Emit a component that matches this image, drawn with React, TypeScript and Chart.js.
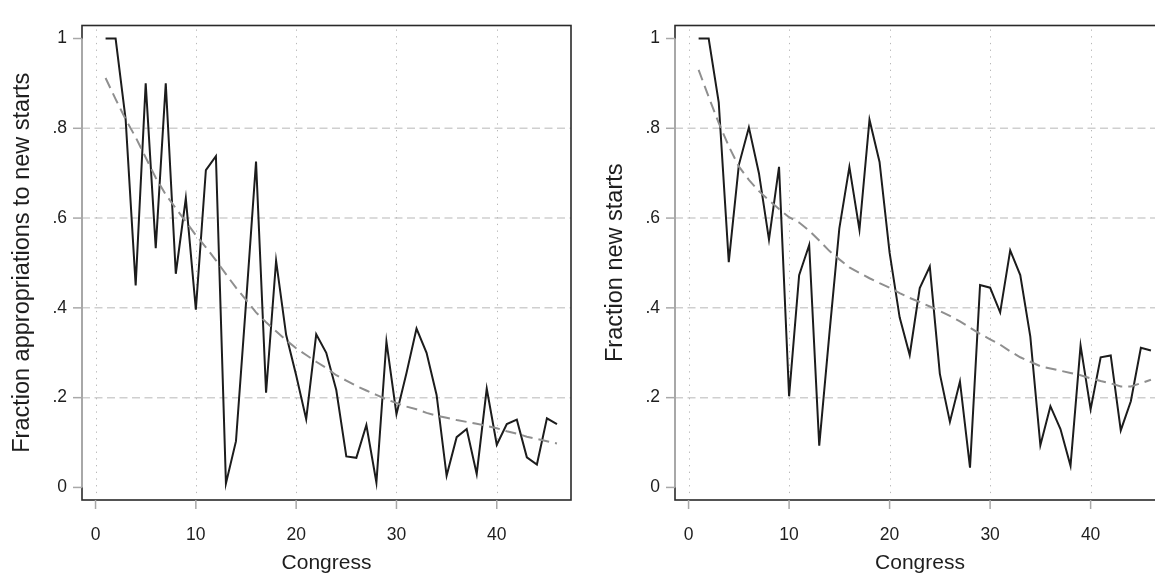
import React, { useEffect, useRef } from "react";
import { Chart, registerables } from "chart.js";

Chart.register(...registerables);

// ---------- data ----------
const congress = [
  1, 2, 3, 4, 5, 6, 7, 8, 9, 10, 11, 12, 13, 14, 15, 16, 17, 18, 19, 20, 21, 22, 23,
  24, 25, 26, 27, 28, 29, 30, 31, 32, 33, 34, 35, 36, 37, 38, 39, 40, 41, 42, 43, 44, 45, 46,
];

const leftActual = [
  1.0, 1.0, 0.82, 0.45, 0.9, 0.533, 0.9, 0.476, 0.644, 0.396, 0.707, 0.738, 0.009, 0.103,
  0.41, 0.726, 0.211, 0.505, 0.34, 0.25, 0.152, 0.341, 0.3, 0.217, 0.069, 0.066, 0.139,
  0.011, 0.325, 0.163, 0.255, 0.354, 0.3, 0.206, 0.026, 0.112, 0.13, 0.03, 0.22, 0.095,
  0.141, 0.151, 0.067, 0.051, 0.154, 0.141,
];

const leftFit = [
  0.912, 0.865, 0.82, 0.78, 0.735, 0.69, 0.652, 0.622, 0.592, 0.562, 0.535, 0.506, 0.475,
  0.445, 0.418, 0.39, 0.368, 0.348, 0.328, 0.31, 0.295, 0.28, 0.266, 0.25, 0.238, 0.226,
  0.216, 0.206, 0.196, 0.188, 0.18, 0.174, 0.166, 0.16, 0.155, 0.15, 0.146, 0.142, 0.137,
  0.132, 0.125, 0.12, 0.113, 0.108, 0.103, 0.098,
];

const rightActual = [
  1.0, 1.0, 0.858, 0.502, 0.718, 0.802, 0.7, 0.552, 0.714, 0.203, 0.473, 0.54, 0.093, 0.34,
  0.577, 0.714, 0.574, 0.819, 0.725, 0.523, 0.379, 0.295, 0.444, 0.492, 0.253, 0.146,
  0.236, 0.044, 0.451, 0.445, 0.39, 0.528, 0.473, 0.336, 0.094, 0.181, 0.13, 0.048, 0.316,
  0.174, 0.29, 0.294, 0.127, 0.192, 0.311, 0.305,
];

const rightFit = [
  0.93, 0.87, 0.812, 0.76, 0.715, 0.685, 0.66, 0.64, 0.62, 0.602, 0.59, 0.572, 0.55, 0.527,
  0.508, 0.49, 0.478, 0.466, 0.455, 0.445, 0.433, 0.422, 0.413, 0.403, 0.393, 0.382, 0.37,
  0.356, 0.342, 0.33, 0.318, 0.303, 0.29, 0.28, 0.27, 0.265, 0.26, 0.255, 0.25, 0.243,
  0.237, 0.232, 0.225, 0.225, 0.232, 0.24,
];

const xTicks = [0, 10, 20, 30, 40];
const yTicks = [0, 0.2, 0.4, 0.6, 0.8, 1];
const yTickLabels = ["0", ".2", ".4", ".6", ".8", "1"];
const yGridValues = [0.2, 0.4, 0.6, 0.8];

const xTitle = "Congress";
const leftYTitle = "Fraction appropriations to new starts";
const rightYTitle = "Fraction new starts";

// ---------- style ----------
const FONT = "'Liberation Sans', Arial, Helvetica, sans-serif";
const TEXT = "#1e1e1e";
const X_MIN = -1.35;
const X_MAX = 47.4;
const Y_MIN = -0.028;
const Y_MAX = 1.029;

const framePlugin = {
  id: "stataFrame",
  beforeDatasetsDraw(chart: any) {
    const { ctx, chartArea: a, scales } = chart;
    const x = scales.x;
    const y = scales.y;
    ctx.save();
    ctx.strokeStyle = "#cfcfcf";
    ctx.lineWidth = 1.5;
    ctx.setLineDash([8, 4.5]);
    for (const v of yGridValues) {
      const py = y.getPixelForValue(v);
      ctx.beginPath();
      ctx.moveTo(a.left, py);
      ctx.lineTo(a.right, py);
      ctx.stroke();
    }
    ctx.strokeStyle = "#b8b8b8";
    ctx.lineWidth = 1;
    ctx.setLineDash([1.3, 5.4]);
    for (const v of xTicks) {
      const px = Math.round(x.getPixelForValue(v)) + 0.5;
      ctx.beginPath();
      ctx.moveTo(px, a.top + 4);
      ctx.lineTo(px, a.bottom - 3);
      ctx.stroke();
    }
    ctx.restore();
  },
  afterDatasetsDraw(chart: any) {
    const { ctx, chartArea: a, scales } = chart;
    const x = scales.x;
    const y = scales.y;
    ctx.save();
    ctx.setLineDash([]);
    ctx.strokeStyle = "#2a2a2a";
    ctx.lineWidth = 1.6;
    ctx.strokeRect(a.left, a.top, a.right - a.left, a.bottom - a.top);
    ctx.strokeStyle = "#a8a8a8";
    ctx.lineWidth = 2;
    ctx.beginPath();
    ctx.moveTo(a.left, y.getPixelForValue(1));
    ctx.lineTo(a.left, y.getPixelForValue(0));
    ctx.stroke();
    ctx.lineWidth = 1.5;
    for (const v of yTicks) {
      const py = y.getPixelForValue(v);
      ctx.beginPath();
      ctx.moveTo(a.left - 9, py);
      ctx.lineTo(a.left, py);
      ctx.stroke();
    }
    for (const v of xTicks) {
      const px = x.getPixelForValue(v);
      ctx.beginPath();
      ctx.moveTo(px, a.bottom);
      ctx.lineTo(px, a.bottom + 9);
      ctx.stroke();
    }
    ctx.restore();
  },
};

type PanelProps = {
  actual: number[];
  fit: number[];
  yTitle: string;
  yTitleSize: number;
  width: number;
  height: number;
};

function Panel({ actual, fit, yTitle, yTitleSize, width, height }: PanelProps) {
  const ref = useRef<HTMLCanvasElement | null>(null);
  useEffect(() => {
    if (!ref.current) return;
    const chart = new Chart(ref.current, {
      type: "line",
      data: {
        datasets: [
          {
            label: "fit",
            data: congress.map((c, i) => ({ x: c, y: fit[i] })),
            borderColor: "#8f8f8f",
            borderWidth: 2,
            borderDash: [11, 6],
            pointRadius: 0,
            tension: 0,
            fill: false,
          },
          {
            label: "actual",
            data: congress.map((c, i) => ({ x: c, y: actual[i] })),
            borderColor: "#1c1c1c",
            borderWidth: 2,
            pointRadius: 0,
            tension: 0,
            fill: false,
          },
        ],
      },
      options: {
        animation: false,
        responsive: false,
        maintainAspectRatio: false,
        events: [],
        layout: { padding: { top: 11, right: 7, left: 0, bottom: 0 } },
        plugins: {
          legend: { display: false },
          tooltip: { enabled: false },
          title: { display: false },
        },
        scales: {
          x: {
            type: "linear",
            min: X_MIN,
            max: X_MAX,
            afterBuildTicks: (axis: any) => {
              axis.ticks = xTicks.map((v) => ({ value: v }));
            },
            afterFit: (scale: any) => {
              scale.height = 76;
            },
            grid: { display: false, drawTicks: false },
            border: { display: false },
            ticks: {
              autoSkip: false,
              maxRotation: 0,
              padding: 25,
              color: TEXT,
              font: { family: FONT, size: 17.5 },
              callback: (v: any) => String(v),
            },
            title: {
              display: true,
              text: xTitle,
              color: TEXT,
              font: { family: FONT, size: 21, lineHeight: 1.2 },
              padding: { top: 0, bottom: 0 },
            },
          },
          y: {
            type: "linear",
            min: Y_MIN,
            max: Y_MAX,
            afterBuildTicks: (axis: any) => {
              axis.ticks = yTicks.map((v) => ({ value: v }));
            },
            afterFit: (scale: any) => {
              scale.width = 82;
            },
            grid: { display: false, drawTicks: false },
            border: { display: false },
            ticks: {
              autoSkip: false,
              padding: 15,
              color: TEXT,
              font: { family: FONT, size: 17.5 },
              callback: (v: any) => {
                const i = yTicks.indexOf(v);
                return i >= 0 ? yTickLabels[i] : "";
              },
            },
            title: {
              display: true,
              text: yTitle,
              color: TEXT,
              font: { family: FONT, size: yTitleSize, lineHeight: 1.2 },
              padding: { top: 22.5 - yTitleSize * 0.6, bottom: 0 },
            },
          },
        },
      },
      plugins: [framePlugin],
    } as any);
    return () => chart.destroy();
  }, [actual, fit, yTitle, yTitleSize]);

  return <canvas ref={ref} width={width} height={height} style={{ width, height, display: "block" }} />;
}

export default function App() {
  return (
    <div
      style={{
        position: "fixed",
        left: 0,
        top: 0,
        width: 1155,
        height: 576,
        overflow: "hidden",
        background: "#ffffff",
      }}
    >
      <div style={{ position: "absolute", left: 0, top: 0 }}>
        <Panel actual={leftActual} fit={leftFit} yTitle={leftYTitle} yTitleSize={23.5} width={578} height={576} />
      </div>
      <div style={{ position: "absolute", left: 593, top: 0 }}>
        <Panel actual={rightActual} fit={rightFit} yTitle={rightYTitle} yTitleSize={23.5} width={579} height={576} />
      </div>
    </div>
  );
}
